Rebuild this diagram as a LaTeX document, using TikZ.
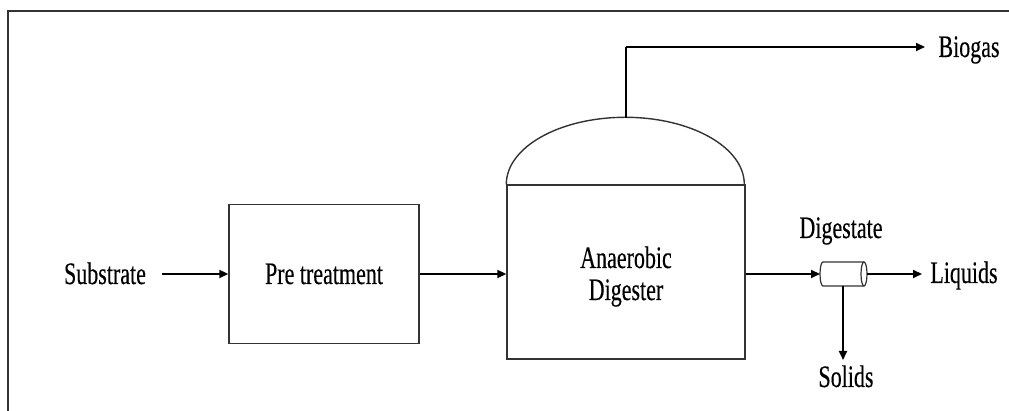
\documentclass[tikz,border=0pt]{standalone}
\usepackage{graphicx}
\usepackage{fontspec}
\setmainfont{Liberation Serif}
\usetikzlibrary{arrows.meta}
\newcommand\tx[1]{\scalebox{1}[1.42]{#1}}
\begin{document}
\begin{tikzpicture}[x=1pt,y=1pt,
  lbl/.style={inner sep=0pt, anchor=base, font=\fontsize{22}{24}\selectfont\addfontfeature{FakeBold=0.4}},
  boxline/.style={draw=black!80, line width=1.4pt},
  arr/.style={line width=1.9pt, -{Triangle[length=9pt,width=8pt]}},
  pipe/.style={line width=1.4pt}]
\useasboundingbox (0,0) rectangle (1009,411);
% frame
\draw[line width=1.4pt, black!80] (8,0) -- (8,400) -- (1009,400);
% nodes
\node[lbl] (sub) at (105,127) {\tx{Substrate}};
\node[boxline, minimum width=190pt, minimum height=139pt, inner sep=0pt] (pre) at (324,137) {};
\node[lbl] (pretext) at (324,127) {\tx{Pre treatment}};
\node[boxline, minimum width=238pt, minimum height=174pt, inner sep=0pt] (dig) at (626,139) {};
\draw[boxline] (dig.north west) arc[start angle=180, end angle=0, x radius=119pt, y radius=67pt];
\coordinate (dome) at (626,293);
\node[lbl] (ana) at (626,143) {\tx{Anaerobic}};
\node[lbl] (dgs) at (626,111) {\tx{Digester}};
\node[lbl] (bio) at (969,354) {\tx{Biogas}};
\coordinate (bioend) at (925,364);
\node[lbl] (dst) at (841,173) {\tx{Digestate}};
\node[lbl] (liq) at (964,128) {\tx{Liquids}};
\coordinate (liqend) at (922,137);
\node[lbl] (sol) at (846,24) {\tx{Solids}};
\coordinate (solend) at (843,51);
% cylinder separator
\coordinate (cylW) at (820,137);
\coordinate (cylE) at (867,137);
\coordinate (cylS) at (843,125);
\draw[boxline, line width=1.2pt] (864,149) -- (823,149) arc[start angle=90, end angle=270, x radius=3pt, y radius=12pt] -- (864,125);
\draw[boxline, line width=1.2pt] (864,137) ellipse[x radius=3pt, y radius=12pt];
% connectors
\coordinate (s0) at ([xshift=16pt]sub.east);
\draw[arr] (s0 |- pre.west) -- (pre.west);
\draw[arr] (pre.east) -- (pre.east -| dig.west);
\draw[pipe] (dome) -- (dome |- bioend);
\draw[arr] (dome |- bioend) -- (bioend);
\draw[arr] (dig.east |- cylW) -- (cylW);
\draw[arr] (cylE) -- (liqend);
\draw[arr] (cylS) -- (solend);
\end{tikzpicture}
\end{document}
